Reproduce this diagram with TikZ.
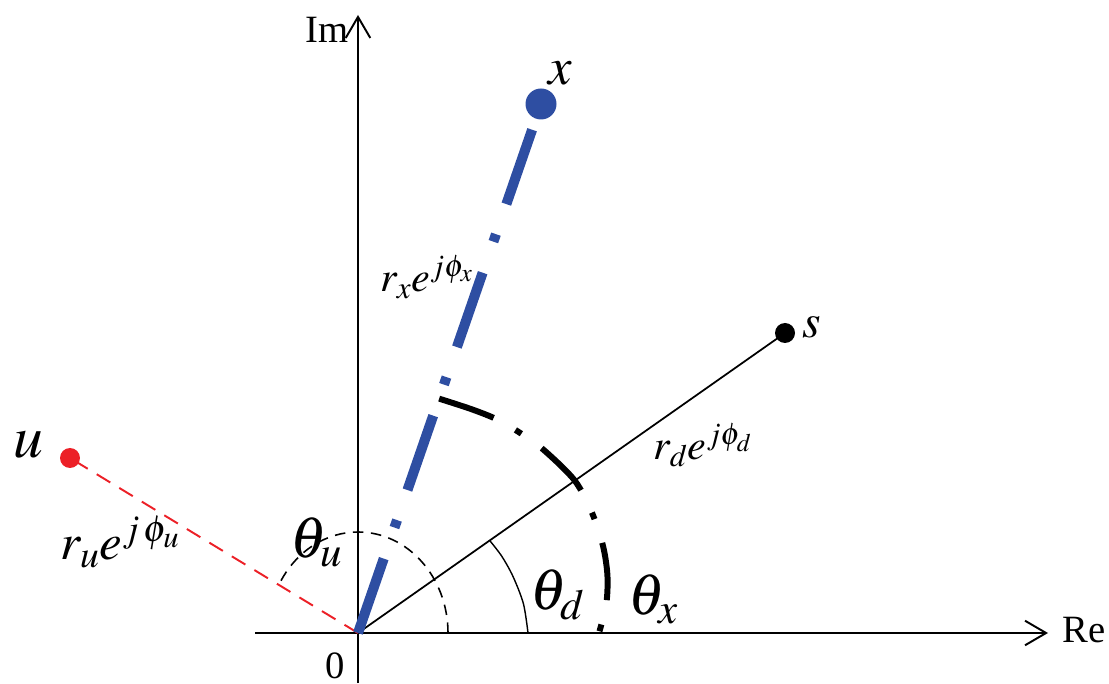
\documentclass[tikz,border=0pt]{standalone}
\usepackage{mathptmx}
\usepackage[no-math]{fontspec}
\setmainfont{Liberation Serif}
\usetikzlibrary{arrows.meta}
\definecolor{ptblue}{RGB}{46,78,162}
\definecolor{ptred}{RGB}{236,32,39}
\tikzset{
  axisline/.style={line width=1.1pt,-{Straight Barb[length=12pt,width=14pt,line width=1.1pt]}},
  lbl/.style={inner sep=0pt,anchor=base west},
  dotnode/.style={circle,inner sep=0pt,minimum size=#1},
  bluedash/.style={ptblue,line width=5.7pt,dash pattern=on 44.8pt off 18.7pt on 4.5pt off 18.1pt},
  reddash/.style={ptred,line width=1.1pt,dash pattern=on 9pt off 6pt},
  sline/.style={black,line width=1pt},
  thetaxarc/.style={black,line width=3.4pt,dash pattern=on 32.9pt off 14.2pt on 4pt off 14.2pt},
  thetadarc/.style={black,line width=0.8pt},
  thetauarc/.style={black,line width=0.9pt,dash pattern=on 6pt off 4.3pt},
}
\begin{document}
\begin{tikzpicture}[x=0.02cm,y=0.02cm]
\useasboundingbox (0,0) rectangle (1109,683);
\coordinate (O) at (358,50);
\coordinate (reS) at (255,50);
\coordinate (reE) at (1048,50);
\coordinate (imS) at (358,0);
\coordinate (imE) at (358,668);
\draw[axisline] (reS) -- (reE);
\draw[axisline] (imS) -- (imE);
\node[lbl,font=\fontsize{22}{22}\selectfont] (Im) at (305,640) {Im};
\node[lbl,font=\fontsize{22}{22}\selectfont] (Re) at (1062,40) {Re};
\node[inner sep=0pt,anchor=base,font=\fontsize{22}{22}\selectfont] (zero) at (335,5) {0};

% angle arcs
\begin{scope}[shift={(O)}]
  \draw[thetauarc] (90,0) arc[start angle=0,end angle=148.8,x radius=90,y radius=101];
  \draw[thetadarc] plot[smooth] coordinates {(0:170) (10:168) (20:165) (28:163) (34.85:161)};
  \draw[thetaxarc] plot[smooth] coordinates {(70.9:248) (63:251) (56.7:255) (50:258) (44:261) (35:265) (27:263) (19.5:260) (13:256) (6.7:250) (0:241)};
\end{scope}

% points
\node[dotnode=0.62cm,fill=ptblue] (xd) at (541,579) {};
\node[dotnode=0.4cm,fill=black] (sd) at (785,350) {};
\node[dotnode=0.4cm,fill=ptred] (ud) at (70,225) {};

% rays
\draw[reddash] (O) -- (ud.center);
\draw[sline] (O) -- (sd.center);
\draw[bluedash] (O) -- (xd.center);

% point labels
\node[lbl,font=\fontsize{30}{30}\selectfont] (xl) at (548,598) {$x$};
\node[lbl,font=\fontsize{27}{27}\selectfont] (sl) at (802,345) {$s$};
\node[lbl,font=\fontsize{34}{34}\selectfont] (ul) at (13,225) {$u$};

% ray labels
\node[lbl,font=\fontsize{24}{24}\selectfont] (rx) at (380,391) {$r_x e^{j\phi_x}$};
\node[lbl,font=\fontsize{24}{24}\selectfont] (rd) at (653,223) {$r_d e^{j\phi_d}$};
\node[lbl,font=\fontsize{29}{29}\selectfont] (ru) at (60,123) {$r_u e^{j\,\phi_u}$};

% angle labels
\node[lbl,font=\fontsize{33}{33}\selectfont] (tu) at (290,125) {$\theta_u$};
\node[lbl,font=\fontsize{33}{33}\selectfont] (td) at (530,73) {$\theta_d$};
\node[lbl,font=\fontsize{33}{33}\selectfont] (tx) at (628,68) {$\theta_x$};
\end{tikzpicture}
\end{document}
